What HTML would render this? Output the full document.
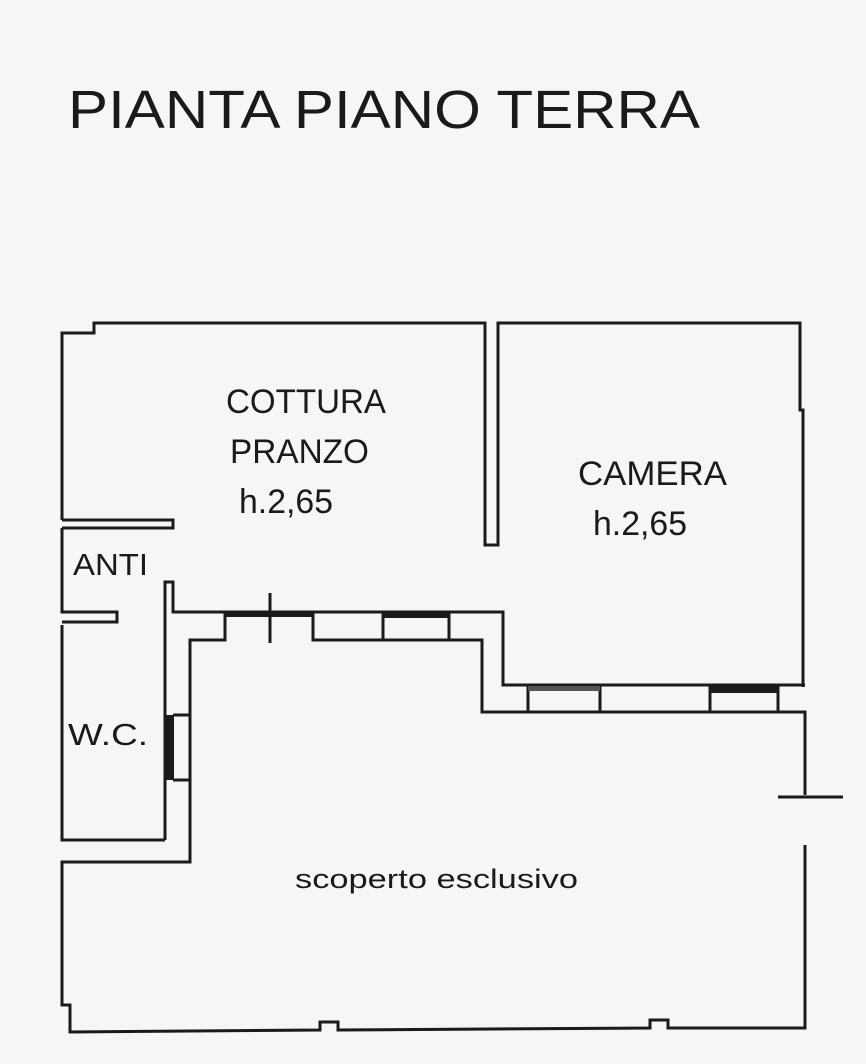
<!DOCTYPE html>
<html><head><meta charset="utf-8"><style>
html,body{margin:0;padding:0;background:#f6f6f6;}
svg{display:block}
text{font-family:"Liberation Sans",sans-serif;fill:#1a1a1a}
</style></head><body>
<svg width="866" height="1064" viewBox="0 0 866 1064" xmlns="http://www.w3.org/2000/svg">
<rect width="866" height="1064" fill="#f6f6f6"/>
<text x="68" y="128" font-size="54" textLength="632" lengthAdjust="spacingAndGlyphs">PIANTA PIANO TERRA</text>
<g fill="none" stroke="#1a1a1a" stroke-width="3">
<polyline points="62,520 62,333 94,333 94,323 485,323 485,545 498,545 498,323 800,323 800,410 803,410 803,687"/>
<polyline points="62,520 173,520 173,528 62,528"/>
<polyline points="62,528 62,612 117,612 117,622 62,622"/>
<polyline points="62,625 62,840 165,840"/>
<polyline points="165,840 165,582 173,582 173,612 225,612"/>
<line x1="225" y1="612" x2="449" y2="612"/>
<polyline points="449,612 503,612 503,685 528,685"/>
<line x1="528" y1="685" x2="805" y2="685"/>
<polyline points="225,612 225,640 190,640 190,862 62,862 62,1005 70,1005 70,1032 320,1030 320,1022 338,1022 338,1030 650,1028 650,1020 668,1020 668,1028 805,1028 805,845"/>
<polyline points="313,612 313,640 482,640 482,712 805,712 805,795"/>
<line x1="383" y1="612" x2="383" y2="640"/>
<line x1="449" y1="612" x2="449" y2="640"/>
<line x1="528" y1="685" x2="528" y2="712"/>
<line x1="600" y1="685" x2="600" y2="712"/>
<line x1="710" y1="685" x2="710" y2="712"/>
<line x1="778" y1="685" x2="778" y2="712"/>
<line x1="778" y1="797" x2="843" y2="797"/>
<polyline points="173,715 190,715"/>
<polyline points="173,780 190,780"/>
<line x1="270" y1="593" x2="270" y2="643"/>
</g>
<g fill="#1a1a1a">
<rect x="225" y="611" width="88" height="6"/>
<rect x="383" y="611" width="66" height="7"/>
<rect x="528" y="686" width="72" height="5" fill="#555"/>
<rect x="710" y="686" width="68" height="7"/>
<rect x="166" y="715" width="8" height="65"/>
</g>
<text x="226" y="413" font-size="34" textLength="160" lengthAdjust="spacingAndGlyphs">COTTURA</text>
<text x="230" y="463" font-size="34" textLength="139" lengthAdjust="spacingAndGlyphs">PRANZO</text>
<text x="239" y="513" font-size="34" textLength="94" lengthAdjust="spacingAndGlyphs">h.2,65</text>
<text x="578" y="485" font-size="34" textLength="149" lengthAdjust="spacingAndGlyphs">CAMERA</text>
<text x="593" y="535" font-size="34" textLength="94" lengthAdjust="spacingAndGlyphs">h.2,65</text>
<text x="73" y="575" font-size="31" textLength="75" lengthAdjust="spacingAndGlyphs">ANTI</text>
<text x="68" y="745" font-size="31" textLength="80" lengthAdjust="spacingAndGlyphs">W.C.</text>
<text x="295" y="888" font-size="27" textLength="283" lengthAdjust="spacingAndGlyphs">scoperto esclusivo</text>
</svg>
</body></html>
